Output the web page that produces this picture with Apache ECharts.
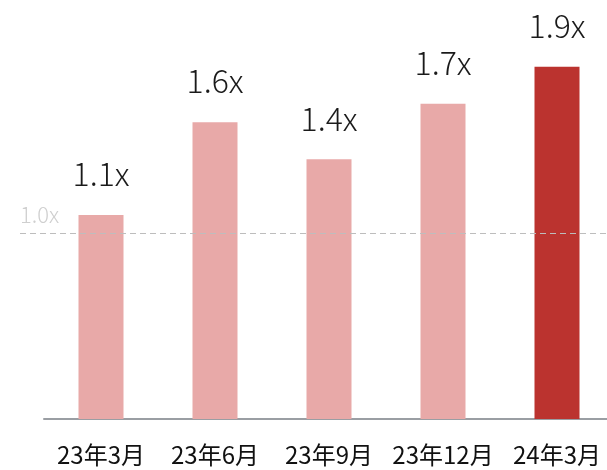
<!DOCTYPE html>
<html>
<head>
<meta charset="utf-8">
<style>
  html, body { margin: 0; padding: 0; background: #fff; }
  #chart { width: 607px; height: 470px; }
</style>
<script src="https://cdn.jsdelivr.net/npm/echarts@6/dist/echarts.min.js"></script>
</head>
<body>
<div id="chart"></div>
<script>
// Quarterly multiples
const categories = ['23年3月', '23年6月', '23年9月', '23年12月', '24年3月'];
const multiples = [1.1, 1.6, 1.4, 1.7, 1.9];
const referenceLevel = 1.0;

const lightBar = '#E8A9A8';
const darkBar = '#BB332F';
const fontFamily = '"Noto Sans CJK JP", "Noto Sans", sans-serif';

const chart = echarts.init(document.getElementById('chart'), null, { renderer: 'canvas' });

const barData = multiples.map((v, i) => ({
  value: v,
  itemStyle: { color: i === multiples.length - 1 ? darkBar : lightBar }
}));

chart.setOption({
  animation: false,
  grid: [
    { left: 44, width: 570, top: 11, bottom: 51, outerBoundsMode: 'none', containLabel: false },
    { left: 20, right: 0, top: 11, bottom: 51, outerBoundsMode: 'none', containLabel: false }
  ],
  xAxis: [
    {
      type: 'category',
      gridIndex: 0,
      data: categories,
      axisLine: { lineStyle: { color: '#9a9ea3', width: 2 } },
      axisTick: { show: false },
      axisLabel: {
        color: '#111',
        fontSize: 24,
        fontFamily: fontFamily,
        margin: 24,
        interval: 0
      }
    },
    {
      type: 'category',
      gridIndex: 1,
      data: ['ref'],
      show: false
    }
  ],
  yAxis: [
    { type: 'value', gridIndex: 0, min: 0, max: 2.2, show: false },
    { type: 'value', gridIndex: 1, min: 0, max: 2.2, show: false }
  ],
  series: [
    {
      type: 'bar',
      xAxisIndex: 1,
      yAxisIndex: 1,
      data: [],
      silent: true,
      markLine: {
        silent: true,
        symbol: 'none',
        lineStyle: { color: '#bdbdbd', type: [6, 4], width: 1 },
        label: {
          position: 'insideStartTop',
          formatter: referenceLevel.toFixed(1) + 'x',
          color: '#cfcfcf',
          fontSize: 22,
          fontFamily: fontFamily,
          fontWeight: 300,
          distance: [0, 8]
        },
        data: [{ yAxis: referenceLevel }]
      }
    },
    {
      type: 'bar',
      xAxisIndex: 0,
      yAxisIndex: 0,
      data: barData,
      barWidth: 45,
      label: {
        show: true,
        position: 'top',
        distance: 25,
        formatter: p => p.value.toFixed(1) + 'x',
        color: '#1a1a1a',
        fontSize: 32,
        fontFamily: fontFamily,
        fontWeight: 300
      }
    }
  ]
});
</script>
</body>
</html>
